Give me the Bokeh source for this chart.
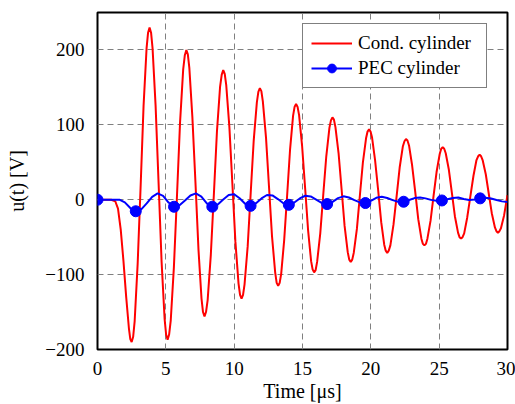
from bokeh.plotting import figure
from bokeh.models import Range1d, FixedTicker, Legend, LegendItem
from bokeh.embed import file_html
from bokeh.resources import INLINE

# ---- data ----
cond_time = [0, 0.5, 1.0, 1.3, 1.5, 1.7, 1.9, 2.1, 2.3, 2.4, 2.5,
             2.61, 2.72, 2.94, 3.16, 3.37, 3.59, 3.70, 3.81,
             3.92, 4.03, 4.25, 4.47, 4.69, 4.91, 5.02, 5.13,
             5.24, 5.36, 5.59, 5.82, 6.04, 6.27, 6.39, 6.5,
             6.61, 6.72, 6.94, 7.17, 7.39, 7.61, 7.72, 7.83,
             7.94, 8.06, 8.29, 8.52, 8.74, 8.97, 9.09, 9.2,
             9.31, 9.42, 9.65, 9.87, 10.09, 10.32, 10.43, 10.54,
             10.65, 10.76, 10.99, 11.21, 11.43, 11.66, 11.77, 11.88,
             11.99, 12.10, 12.33, 12.55, 12.77, 13.00, 13.11, 13.22,
             13.33, 13.44, 13.66, 13.88, 14.09, 14.31, 14.42, 14.53,
             14.64, 14.75, 14.97, 15.19, 15.41, 15.63, 15.74, 15.85,
             15.96, 16.07, 16.30, 16.52, 16.74, 16.97, 17.08, 17.19,
             17.30, 17.41, 17.64, 17.86, 18.08, 18.31, 18.42, 18.53,
             18.64, 18.75, 18.98, 19.20, 19.42, 19.65, 19.76, 19.87,
             19.98, 20.09, 20.31, 20.54, 20.76, 20.98, 21.09, 21.2,
             21.31, 21.43, 21.66, 21.89, 22.11, 22.34, 22.46, 22.57,
             22.68, 22.80, 23.02, 23.25, 23.47, 23.70, 23.81, 23.92,
             24.03, 24.14, 24.37, 24.59, 24.81, 25.04, 25.15, 25.26,
             25.37, 25.48, 25.71, 25.93, 26.15, 26.38, 26.49, 26.6,
             26.71, 26.83, 27.05, 27.28, 27.51, 27.73, 27.85, 27.96,
             28.07, 28.18, 28.41, 28.63, 28.85, 29.08, 29.19, 29.3,
             29.41, 29.52, 29.75, 29.97, 30.0]
cond_volt = [0, 0, 0, -2, -12, -40, -82, -130, -172, -186, -190,
             -183, -162, -85, 20, 125, 202, 223, 230,
             223, 202, 126, 22, -83, -159, -180, -187,
             -180, -161, -90, 7, 103, 174, 193, 200,
             194, 176, 111, 22, -67, -132, -150, -156,
             -150, -134, -74, 9, 91, 151, 167, 173,
             168, 153, 97, 21, -56, -112, -127, -132,
             -127, -113, -62, 9, 79, 130, 144, 149,
             145, 131, 83, 17, -49, -97, -111, -115,
             -111, -99, -54, 7, 67, 112, 124, 128,
             124, 113, 72, 16, -41, -82, -93, -97,
             -94, -83, -45, 7, 58, 96, 106, 110,
             107, 97, 62, 14, -35, -70, -80, -83,
             -80, -71, -39, 6, 50, 82, 91, 94,
             91, 83, 53, 12, -30, -60, -68, -71,
             -68, -61, -33, 5, 43, 71, 78, 81,
             79, 72, 46, 10, -26, -52, -59, -61,
             -59, -52, -28, 5, 37, 61, 68, 70,
             68, 62, 40, 9, -22, -44, -50, -52,
             -50, -45, -24, 4, 32, 53, 58, 60,
             58, 53, 34, 8, -18, -37, -42, -44,
             -42, -38, -21, 3, 6]

pec_time = [0.0, 0.4, 0.8, 1.2, 1.6, 2.0, 2.4, 2.8, 3.2, 3.6,
            4.0, 4.4, 4.8, 5.2, 5.6, 6.0, 6.4, 6.8, 7.2, 7.6,
            8.0, 8.4, 8.8, 9.2, 9.6, 10.0, 10.4, 10.8, 11.2, 11.6,
            12.0, 12.4, 12.8, 13.2, 13.6, 14.0, 14.4, 14.8, 15.2, 15.6,
            16.0, 16.4, 16.8, 17.2, 17.6, 18.0, 18.4, 18.8, 19.2, 19.6,
            20.0, 20.4, 20.8, 21.2, 21.6, 22.0, 22.4, 22.8, 23.2, 23.6,
            24.0, 24.4, 24.8, 25.2, 25.6, 26.0, 26.4, 26.8, 27.2, 27.6,
            28.0, 28.4, 28.8, 29.2, 29.6, 30.0]
pec_volt = [0, 0, 0, 0, 0, -3.6, -11.1, -15.4, -12.8, -4.9,
            3.9, 8.4, 5.2, -3.8, -9.4, -7.3, -1.0, 5.7, 8.5, 4.1,
            -4.9, -9.3, -6.4, 0.3, 6.2, 7.4, 2.0, -5.4, -8.2, -4.7,
            1.7, 6.3, 5.8, 0.9, -4.8, -6.8, -3.8, 1.7, 5.3, 4.4,
            0.2, -4.2, -5.8, -2.8, 2.1, 4.5, 3.0, -0.5, -3.6, -4.4,
            -1.4, 2.6, 4.0, 2.3, -0.5, -2.7, -2.7, -0.4, 2.2, 3.0,
            1.8, -0.2, -1.4, -1.0, 0.7, 2.4, 2.9, 1.0, -0.5, 0.3,
            1.8, 2.5, 1.7, -0.3, -2.2, -3.0]
pec_mark_every = 7

x_ticks = [0, 5, 10, 15, 20, 25, 30]
y_ticks = [-200, -100, 0, 100, 200]
y_tick_labels = {-200: "\u2212200", -100: "\u2212100", 0: "0", 100: "100", 200: "200"}

series_names = ["Cond. cylinder", "PEC cylinder"]
x_title = "Time [\u03bcs]"
y_title = "u(t) [V]"

FONT = "Liberation Serif"

p = figure(width=515, height=404, output_backend="svg", toolbar_location=None,
           x_range=Range1d(0, 30), y_range=Range1d(-200, 250),
           min_border_left=97, min_border_right=8, min_border_top=12, min_border_bottom=54)
p.background_fill_color = "white"
p.border_fill_color = "white"
p.outline_line_color = "black"
p.outline_line_width = 2

for ax in (p.xaxis[0], p.yaxis[0]):
    ax.axis_line_color = None
    ax.major_tick_line_color = None
    ax.minor_tick_line_color = None
    ax.major_label_text_font = FONT
    ax.major_label_text_font_size = "19px"
    ax.major_label_text_color = "black"
    ax.axis_label_text_font = FONT
    ax.axis_label_text_font_size = "20px"
    ax.axis_label_text_font_style = "normal"
    ax.axis_label_text_color = "black"

p.xaxis.ticker = FixedTicker(ticks=x_ticks)
p.yaxis.ticker = FixedTicker(ticks=y_ticks)
p.yaxis.major_label_overrides = y_tick_labels
p.xaxis.major_label_standoff = 6
p.yaxis.major_label_standoff = 7
p.xaxis.axis_label = x_title
p.yaxis.axis_label = y_title
p.xaxis.axis_label_standoff = 2
p.yaxis.axis_label_standoff = 14

for g in (p.xgrid[0], p.ygrid[0]):
    g.grid_line_color = "#808080"
    g.grid_line_dash = "6 4"
    g.grid_line_width = 1

r_cond = p.line(cond_time, cond_volt, line_color="#ff0000", line_width=2)
r_pec = p.line(pec_time, pec_volt, line_color="#0000ff", line_width=2)
r_pec_m = p.scatter(pec_time[::pec_mark_every], pec_volt[::pec_mark_every],
                    marker="circle", size=11, fill_color="#0000ff", line_color="#0000ff")

legend = Legend(items=[LegendItem(label=series_names[0], renderers=[r_cond]),
                       LegendItem(label=series_names[1], renderers=[r_pec, r_pec_m])],
                location=(205, 261))
legend.label_text_font = FONT
legend.label_text_font_size = "19px"
legend.label_text_color = "black"
legend.glyph_width = 41
legend.glyph_height = 22
legend.label_height = 22
legend.label_width = 120
legend.label_standoff = 6
legend.padding = 8
legend.spacing = 3
legend.border_line_color = "black"
legend.border_line_width = 1
legend.background_fill_alpha = 1
legend.margin = 0
p.add_layout(legend)

open("out.html", "w").write(file_html(p, INLINE))
